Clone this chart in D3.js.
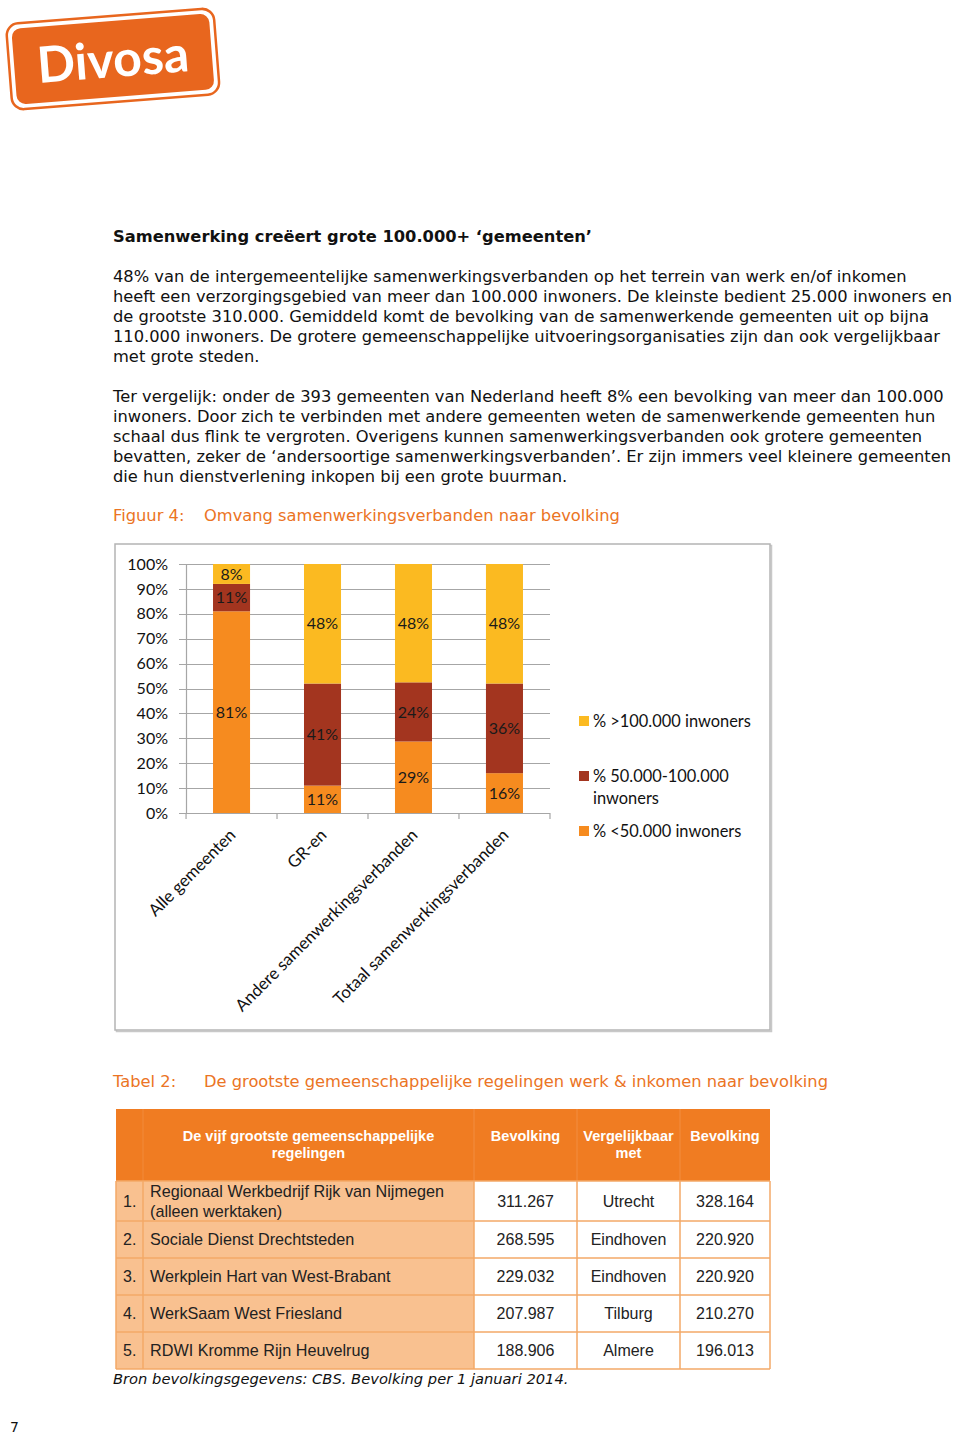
<!DOCTYPE html>
<html>
<head>
<meta charset="utf-8">
<script src="https://cdn.jsdelivr.net/npm/d3@7"></script>
<style>
  body { margin: 0; background: #fff; }
  svg { display: block; }
</style>
</head>
<body>
<svg id="page"></svg>
<script>
// ---- data ----
const categories = ["Alle gemeenten", "GR-en", "Andere samenwerkingsverbanden", "Totaal samenwerkingsverbanden"];
const seriesKeys = ["klein", "midden", "groot"];
const seriesLabels = ["% <50.000 inwoners", "% 50.000-100.000 inwoners", "% >100.000 inwoners"];
const klein = [81, 11, 29, 16];
const midden = [11, 41, 24, 36];
const groot = [8, 48, 48, 48];
const yTicks = [0, 0.1, 0.2, 0.3, 0.4, 0.5, 0.6, 0.7, 0.8, 0.9, 1];

const regelingen = ["Regionaal Werkbedrijf Rijk van Nijmegen|(alleen werktaken)", "Sociale Dienst Drechtsteden",
    "Werkplein Hart van West-Brabant", "WerkSaam West Friesland", "RDWI Kromme Rijn Heuvelrug"];
const bevolking = ["311.267", "268.595", "229.032", "207.987", "188.906"];
const vergelijkbaar = ["Utrecht", "Eindhoven", "Eindhoven", "Tilburg", "Almere"];
const bevolkingStad = ["328.164", "220.920", "220.920", "210.270", "196.013"];

const para1 = [
    "48% van de intergemeentelijke samenwerkingsverbanden op het terrein van werk en/of inkomen",
    "heeft een verzorgingsgebied van meer dan 100.000 inwoners. De kleinste bedient 25.000 inwoners en",
    "de grootste 310.000. Gemiddeld komt de bevolking van de samenwerkende gemeenten uit op bijna",
    "110.000 inwoners. De grotere gemeenschappelijke uitvoeringsorganisaties zijn dan ook vergelijkbaar",
    "met grote steden."
];
const para2 = [
    "Ter vergelijk: onder de 393 gemeenten van Nederland heeft 8% een bevolking van meer dan 100.000",
    "inwoners. Door zich te verbinden met andere gemeenten weten de samenwerkende gemeenten hun",
    "schaal dus flink te vergroten. Overigens kunnen samenwerkingsverbanden ook grotere gemeenten",
    "bevatten, zeker de \u2018andersoortige samenwerkingsverbanden\u2019. Er zijn immers veel kleinere gemeenten",
    "die hun dienstverlening inkopen bij een grote buurman."
];

// ---- page ----
const W = 960, H = 1434;
const svg = d3.select("#page").attr("width", W).attr("height", H);
svg.append("rect").attr("width", W).attr("height", H).attr("fill", "#fff");

const bodyFont = "'DejaVu Sans', Verdana, sans-serif";
const bodySize = "16.3px";
const chartFont = "Lato, 'Open Sans', sans-serif";
const tableFont = "'Liberation Sans', Arial, sans-serif";
const accent = "#EB7424";

// logo
const logo = svg.append("g").attr("transform", "translate(113,60) rotate(-4.5)");
logo.append("rect")
    .attr("x", -104).attr("y", -44).attr("width", 208).attr("height", 86).attr("rx", 12)
    .attr("fill", "#fff").attr("stroke", "#E8661E").attr("stroke-width", 2.5);
logo.append("rect")
    .attr("x", -99).attr("y", -39).attr("width", 198).attr("height", 76).attr("rx", 9)
    .attr("fill", "#E8661E");
logo.append("text")
    .attr("x", 0).attr("y", 17)
    .attr("text-anchor", "middle")
    .attr("font-family", chartFont).attr("font-weight", "bold").attr("font-size", "50px")
    .attr("fill", "#fff")
    .text("Divosa");

// heading + paragraphs
svg.append("text")
    .attr("x", 113).attr("y", 242)
    .attr("font-family", bodyFont).attr("font-weight", "bold").attr("font-size", bodySize)
    .attr("fill", "#111")
    .text("Samenwerking cre\u00EBert grote 100.000+ \u2018gemeenten\u2019");

function paragraph(lines, y0) {
    svg.append("g").selectAll("text")
        .data(lines)
        .join("text")
        .attr("x", 113)
        .attr("y", (d, i) => y0 + i * 20)
        .attr("font-family", bodyFont).attr("font-size", bodySize)
        .attr("fill", "#111")
        .text(d => d);
}
paragraph(para1, 282);
paragraph(para2, 402);

function caption(label, title, y) {
    svg.append("text").attr("x", 113).attr("y", y)
        .attr("font-family", bodyFont).attr("font-size", bodySize).attr("fill", accent).text(label);
    svg.append("text").attr("x", 204).attr("y", y)
        .attr("font-family", bodyFont).attr("font-size", bodySize).attr("fill", accent).text(title);
}
caption("Figuur 4:", "Omvang samenwerkingsverbanden naar bevolking", 521);
caption("Tabel 2:", "De grootste gemeenschappelijke regelingen werk & inkomen naar bevolking", 1087);

// ---- chart ----
const frame = {x: 115, y: 544, w: 655, h: 486};
svg.append("rect")
    .attr("x", frame.x + 1.5).attr("y", frame.y + 1.5).attr("width", frame.w).attr("height", frame.h)
    .attr("fill", "none").attr("stroke", "#c8c8c8").attr("stroke-width", 1.5);
svg.append("rect")
    .attr("x", frame.x).attr("y", frame.y).attr("width", frame.w).attr("height", frame.h)
    .attr("fill", "#fff").attr("stroke", "#b4b4b4").attr("stroke-width", 1.5);

const plot = {left: 186, right: 550, top: 564, bottom: 813};
const chart = svg.append("g");

const x = d3.scaleBand()
    .domain(categories)
    .range([plot.left, plot.right])
    .paddingInner(0.593)
    .paddingOuter(0.297);
const y = d3.scaleLinear().domain([0, 1]).range([plot.bottom, plot.top]);
const color = d3.scaleOrdinal().domain(seriesKeys).range(["#F68B1F", "#A3351F", "#FBBA21"]);

const rows = categories.map((c, i) => ({cat: c, klein: klein[i], midden: midden[i], groot: groot[i]}));
const stacked = d3.stack().keys(seriesKeys).offset(d3.stackOffsetExpand)(rows);

// gridlines
chart.append("g").selectAll("line")
    .data(yTicks)
    .join("line")
    .attr("x1", plot.left - 7).attr("x2", plot.right)
    .attr("y1", d => Math.round(y(d)) + 0.5).attr("y2", d => Math.round(y(d)) + 0.5)
    .attr("stroke", "#a6a6a6").attr("stroke-width", 1.2);

// y axis
const yAxis = d3.axisLeft(y).tickValues(yTicks).tickFormat(d3.format(".0%")).tickSize(0).tickPadding(18);
const yg = chart.append("g").attr("transform", `translate(${plot.left},0)`).call(yAxis);
yg.select(".domain").attr("stroke", "#a6a6a6").attr("stroke-width", 1.2);
yg.selectAll("text").attr("font-family", chartFont).attr("font-size", "16px").attr("fill", "#111");

// x axis baseline ticks at band boundaries
const bounds = categories.map(c => x(c) - x.step() * x.paddingInner() / 2);
bounds.push(plot.right);
chart.append("g").selectAll("line")
    .data(bounds)
    .join("line")
    .attr("x1", d => d).attr("x2", d => d)
    .attr("y1", plot.bottom).attr("y2", plot.bottom + 6)
    .attr("stroke", "#a6a6a6").attr("stroke-width", 1.2);

// bars
const layers = chart.append("g").selectAll("g")
    .data(stacked)
    .join("g")
    .attr("fill", d => color(d.key));
layers.selectAll("rect")
    .data(d => d)
    .join("rect")
    .attr("x", d => x(d.data.cat))
    .attr("width", x.bandwidth())
    .attr("y", d => y(d[1]))
    .attr("height", d => y(d[0]) - y(d[1]));

// value labels
stacked.forEach(layer => {
    chart.append("g").selectAll("text")
        .data(layer)
        .join("text")
        .attr("x", d => x(d.data.cat) + x.bandwidth() / 2)
        .attr("y", d => y((d[0] + d[1]) / 2))
        .attr("dy", "0.35em")
        .attr("text-anchor", "middle")
        .attr("font-family", chartFont).attr("font-size", "16px")
        .attr("fill", "#1a1a1a")
        .text(d => d.data[layer.key] + "%");
});

// category labels
chart.append("g").selectAll("text")
    .data(categories)
    .join("text")
    .attr("transform", d => `translate(${x(d) + x.bandwidth() / 2 + 1},${plot.bottom + 19}) rotate(-45)`)
    .attr("dy", "0.35em")
    .attr("text-anchor", "end")
    .attr("font-family", chartFont).attr("font-size", "16.8px")
    .attr("fill", "#111")
    .text(d => d);

// legend
const legendItems = [
    {key: "groot", lines: ["% >100.000 inwoners"], y: 721},
    {key: "midden", lines: ["% 50.000-100.000", "inwoners"], y: 776},
    {key: "klein", lines: ["% <50.000 inwoners"], y: 831}
];
const legend = svg.append("g");
legendItems.forEach(it => {
    legend.append("rect")
        .attr("x", 579).attr("y", it.y - 5).attr("width", 10).attr("height", 10)
        .attr("fill", color(it.key));
    it.lines.forEach((l, i) => {
        legend.append("text")
            .attr("x", 593).attr("y", it.y + i * 22)
            .attr("dy", "0.35em")
            .attr("font-family", chartFont).attr("font-size", "16.4px")
            .attr("fill", "#111")
            .text(l);
    });
});

// ---- table ----
const colX = [116, 143, 474, 577, 680, 770];
const rowY = [1109, 1181, 1221, 1258, 1295, 1332, 1369];
const tb = svg.append("g");
const headOrange = "#F07C22", lightOrange = "#F9C190", lineOrange = "#F3A867";

tb.append("rect")
    .attr("x", colX[0]).attr("y", rowY[0]).attr("width", colX[5] - colX[0]).attr("height", rowY[1] - rowY[0])
    .attr("fill", headOrange);
tb.append("line")
    .attr("x1", colX[1]).attr("x2", colX[1]).attr("y1", rowY[0]).attr("y2", rowY[1])
    .attr("stroke", "#F18A3A").attr("stroke-width", 1);
[2, 3, 4].forEach(c => tb.append("line")
    .attr("x1", colX[c]).attr("x2", colX[c]).attr("y1", rowY[0]).attr("y2", rowY[1])
    .attr("stroke", "#F28D40").attr("stroke-width", 1));

const headers = [
    {lines: ["De vijf grootste gemeenschappelijke", "regelingen"], c0: 1, c1: 2},
    {lines: ["Bevolking"], c0: 2, c1: 3},
    {lines: ["Vergelijkbaar", "met"], c0: 3, c1: 4},
    {lines: ["Bevolking"], c0: 4, c1: 5}
];
headers.forEach(h => {
    h.lines.forEach((l, i) => {
        tb.append("text")
            .attr("x", (colX[h.c0] + colX[h.c1]) / 2).attr("y", 1136 + i * 17)
            .attr("dy", "0.35em").attr("text-anchor", "middle")
            .attr("font-family", tableFont).attr("font-weight", "bold").attr("font-size", "14.5px")
            .attr("fill", "#fff")
            .text(l);
    });
});

regelingen.forEach((name, i) => {
    const y0 = rowY[i + 1], y1 = rowY[i + 2], cy = (y0 + y1) / 2;
    tb.append("rect").attr("x", colX[0]).attr("y", y0).attr("width", colX[2] - colX[0]).attr("height", y1 - y0)
        .attr("fill", lightOrange);
    tb.append("rect").attr("x", colX[2]).attr("y", y0).attr("width", colX[5] - colX[2]).attr("height", y1 - y0)
        .attr("fill", "#fff");
    tb.append("text").attr("x", 123).attr("y", cy).attr("dy", "0.35em")
        .attr("font-family", tableFont).attr("font-size", "16px").attr("fill", "#222")
        .text((i + 1) + ".");
    const parts = name.split("|");
    parts.forEach((p, j) => {
        tb.append("text").attr("x", 150).attr("y", cy + (j - (parts.length - 1) / 2) * 20).attr("dy", "0.35em")
            .attr("font-family", tableFont).attr("font-size", "16.2px").attr("fill", "#222")
            .text(p);
    });
    [bevolking[i], vergelijkbaar[i], bevolkingStad[i]].forEach((v, k) => {
        tb.append("text").attr("x", (colX[k + 2] + colX[k + 3]) / 2).attr("y", cy).attr("dy", "0.35em")
            .attr("text-anchor", "middle")
            .attr("font-family", tableFont).attr("font-size", "16px").attr("fill", "#222")
            .text(v);
    });
});

// grid lines of table body
rowY.slice(1).forEach(yy => tb.append("line")
    .attr("x1", colX[0]).attr("x2", colX[5]).attr("y1", yy).attr("y2", yy)
    .attr("stroke", lineOrange).attr("stroke-width", 1.5));
colX.forEach(xx => tb.append("line")
    .attr("x1", xx).attr("x2", xx).attr("y1", rowY[1]).attr("y2", rowY[6])
    .attr("stroke", lineOrange).attr("stroke-width", 1.5));

svg.append("text")
    .attr("x", 113).attr("y", 1384)
    .attr("font-family", bodyFont).attr("font-style", "italic").attr("font-size", "14.7px")
    .attr("fill", "#111")
    .text("Bron bevolkingsgegevens: CBS. Bevolking per 1 januari 2014.");

svg.append("text")
    .attr("x", 10).attr("y", 1432)
    .attr("font-family", bodyFont).attr("font-size", "14px")
    .attr("fill", "#111")
    .text("7");
</script>
</body>
</html>
